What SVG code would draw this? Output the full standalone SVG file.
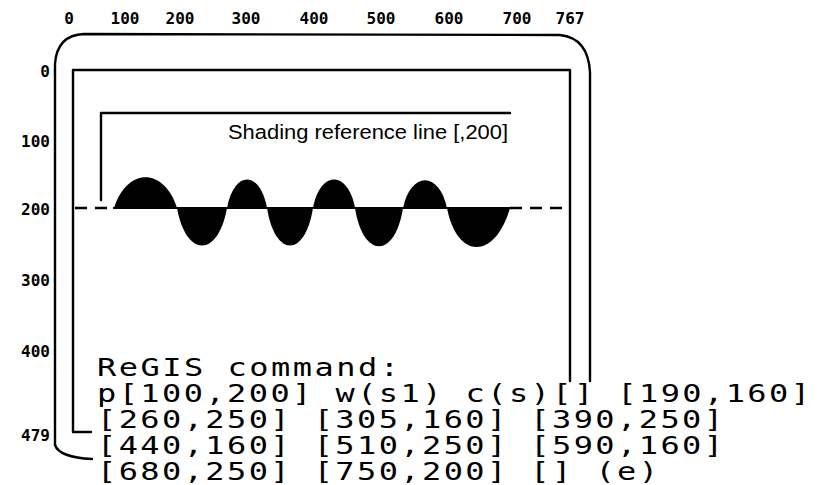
<svg xmlns="http://www.w3.org/2000/svg" width="830" height="485" viewBox="0 0 830 485">
<style>
.ax{font-family:"DejaVu Sans Mono","Liberation Mono",monospace;font-weight:bold;font-size:16px;fill:#000}
.cmd{font-family:"DejaVu Sans Mono","Liberation Mono",monospace;font-size:32px;fill:#000}
.lbl{font-family:"Liberation Sans",Arial,sans-serif;font-size:20px;fill:#000}
.ln{fill:none;stroke:#000;stroke-width:2.4;stroke-linecap:round;stroke-linejoin:round}
.dash{fill:none;stroke:#000;stroke-width:2.5;stroke-dasharray:12 8}
.fill{fill:#000;stroke:none}
</style>
<rect width="830" height="485" fill="#fff"/>
<g id="x-axis">
<text class="ax" x="69" y="24" text-anchor="middle">0</text>
<text class="ax" x="125" y="24" text-anchor="middle">100</text>
<text class="ax" x="180" y="24" text-anchor="middle">200</text>
<text class="ax" x="246" y="24" text-anchor="middle">300</text>
<text class="ax" x="314" y="24" text-anchor="middle">400</text>
<text class="ax" x="381" y="24" text-anchor="middle">500</text>
<text class="ax" x="449" y="24" text-anchor="middle">600</text>
<text class="ax" x="517" y="24" text-anchor="middle">700</text>
<text class="ax" x="570" y="24" text-anchor="middle">767</text>
</g>
<g id="y-axis">
<text class="ax" x="50" y="77" text-anchor="end">0</text>
<text class="ax" x="50" y="147" text-anchor="end">100</text>
<text class="ax" x="50" y="215" text-anchor="end">200</text>
<text class="ax" x="50" y="286" text-anchor="end">300</text>
<text class="ax" x="50" y="357" text-anchor="end">400</text>
<text class="ax" x="50" y="441" text-anchor="end">479</text>
</g>
<g id="outer-frame">
<path class="ln" d="M55,445 L55,64 Q57,35 84,34 L560,35 Q588,38 590,72 L590,381"/>
<path class="ln" d="M55,445 C58,454 72,458 92,459"/>
</g>
<g id="screen-frame">
<path class="ln" d="M91,432 L73,432 L73,70 L570,70 L570,381"/>
</g>
<g id="reference-line">
<path class="ln" d="M101,200 L101,113 L510,113"/>
<text class="lbl" x="508" y="139" text-anchor="end" textLength="280" lengthAdjust="spacingAndGlyphs">Shading reference line [,200]</text>
</g>
<g id="connectors">
<path class="dash" d="M75,208 L113,208"/>
<path class="dash" d="M510,208 L562,208"/>
</g>
<g id="shaded-curve">
<path class="fill" d="M114,208 C127,167 164,167 177,208 Z"/>
<path class="fill" d="M177,208 C186,258 218,258 227,208 Z"/>
<path class="fill" d="M227,208 C234,170 260,170 267,208 Z"/>
<path class="fill" d="M267,208 C275,258 305,258 313,208 Z"/>
<path class="fill" d="M313,208 C320,170 348,170 355,208 Z"/>
<path class="fill" d="M355,208 C363,259 395,259 403,208 Z"/>
<path class="fill" d="M403,208 C411,171 439,171 447,208 Z"/>
<path class="fill" d="M447,208 C457,260 495,260 510,208 Z"/>
<path d="M113,208 L510,208" stroke="#000" stroke-width="2"/>
</g>
<g id="command-text">
<text class="cmd" transform="translate(97,376) scale(1,0.75)" textLength="302" lengthAdjust="spacing">ReGIS command:</text>
<text class="cmd" transform="translate(97,402) scale(1,0.75)" textLength="713" lengthAdjust="spacing">p[100,200] w(s1) c(s)[] [190,160]</text>
<text class="cmd" transform="translate(97,428) scale(1,0.75)" textLength="626" lengthAdjust="spacing">[260,250] [305,160] [390,250]</text>
<text class="cmd" transform="translate(97,454) scale(1,0.75)" textLength="626" lengthAdjust="spacing">[440,160] [510,250] [590,160]</text>
<text class="cmd" transform="translate(97,480) scale(1,0.75)" textLength="561" lengthAdjust="spacing">[680,250] [750,200] [] (e)</text>
</g>
</svg>
